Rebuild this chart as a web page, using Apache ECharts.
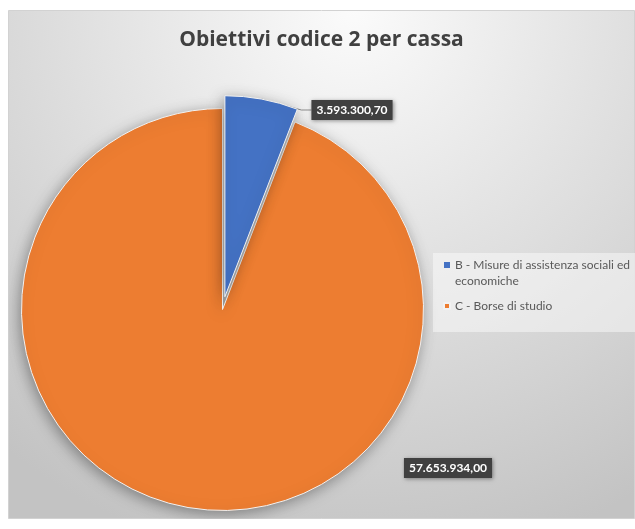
<!DOCTYPE html>
<html>
<head>
<meta charset="utf-8">
<script src="https://cdn.jsdelivr.net/npm/echarts@6/dist/echarts.min.js"></script>
<style>
  html, body { margin: 0; padding: 0; background: #ffffff; }
  #chart { position: absolute; left: 8px; top: 10px; width: 627px; height: 509px; }
</style>
</head>
<body>
<div id="chart"></div>
<script>
// ---- data ----
const titleText = 'Obiettivi codice 2 per cassa';
const categories = ['B - Misure di assistenza sociali ed economiche', 'C - Borse di studio'];
const values = [3593300.70, 57653934.00];
const colors = ['#4472C4', '#ED7D31'];

function fmtIt(v) {
  const parts = v.toFixed(2).split('.');
  const intPart = parts[0].replace(/\B(?=(\d{3})+(?!\d))/g, '.');
  return intPart + ',' + parts[1];
}

// layout
const pieCenter = [214.5, 299.5];
const pieRadius = 201;
const explode = 13;          // exploded offset of slice B (px)
const explodedIndex = 0;
const labelPos = [[344, 100], [440, 458]];

// offset of the exploded slice along its mid angle (computed from the data)
const total = values.reduce(function (a, b) { return a + b; }, 0);
let before = 0;
for (let i = 0; i < explodedIndex; i++) before += values[i];
const midFrac = (before + values[explodedIndex] / 2) / total;
const midRad = (90 - midFrac * 360) * Math.PI / 180;
const explodedCenter = [pieCenter[0] + explode * Math.cos(midRad), pieCenter[1] - explode * Math.sin(midRad)];

const baseItemStyle = {
  borderColor: '#f2f2f2',
  borderWidth: 1,
  shadowBlur: 14,
  shadowColor: 'rgba(0,0,0,0.35)',
  shadowOffsetX: -2,
  shadowOffsetY: 3
};
const baseLabel = {
  show: true,
  position: 'outside',
  formatter: function (p) { return fmtIt(p.value); },
  backgroundColor: '#404040',
  color: '#ffffff',
  fontFamily: 'Lato',
  fontWeight: 'bold',
  fontSize: 12,
  padding: [4, 5],
  shadowBlur: 4,
  shadowColor: 'rgba(0,0,0,0.4)',
  shadowOffsetX: 1,
  shadowOffsetY: 1
};

function makeSeries(visibleIdx, center, showLine) {
  return {
    type: 'pie',
    center: center,
    radius: pieRadius,
    startAngle: 90,
    clockwise: true,
    avoidLabelOverlap: false,
    silent: true,
    itemStyle: baseItemStyle,
    label: baseLabel,
    labelLine: {
      show: showLine,
      length: 10,
      length2: 10,
      lineStyle: { color: '#8c8c8c', width: 1 }
    },
    labelLayout: function (params) {
      const p = labelPos[params.dataIndex];
      return { x: p[0], y: p[1], align: 'center', verticalAlign: 'middle' };
    },
    emphasis: { disabled: true },
    data: categories.map(function (c, i) {
      const vis = i === visibleIdx;
      return {
        name: c,
        value: values[i],
        itemStyle: vis ? { color: colors[i] } : { color: 'rgba(0,0,0,0)', borderWidth: 0, shadowBlur: 0 },
        label: { show: vis },
        labelLine: { show: vis && showLine }
      };
    })
  };
}

const chart = echarts.init(document.getElementById('chart'));
chart.setOption({
  animation: false,
  backgroundColor: '#ffffff',
  graphic: [
    {
      type: 'rect', z: -10, silent: true,
      shape: { x: 0.5, y: 0.5, width: 626, height: 508 },
      style: {
        fill: {
          type: 'radial', x: 0.55, y: 0.0, r: 1.1,
          colorStops: [
            { offset: 0, color: '#fbfbfb' },
            { offset: 0.2, color: '#f0f0f0' },
            { offset: 0.65, color: '#d7d7d7' },
            { offset: 1, color: '#c3c3c3' }
          ]
        },
        stroke: '#d2d2d2', lineWidth: 1
      }
    },
    {
      type: 'rect', z: 3, silent: true,
      shape: { x: 425, y: 243, width: 202, height: 79 },
      style: { fill: 'rgba(255,255,255,0.45)' }
    }
  ],
  title: {
    text: titleText,
    left: 'center',
    top: 20,
    padding: 0,
    textStyle: { fontFamily: 'Open Sans', fontWeight: 'bold', fontSize: 21, color: '#404040' }
  },
  legend: {
    orient: 'vertical',
    left: 435,
    top: 231,
    padding: 0,
    itemGap: 9,
    itemWidth: 6,
    itemHeight: 6,
    icon: 'rect',
    formatter: function (name) {
      return name.indexOf(' economiche') >= 0 ? '\n' + name.replace(' economiche', '\neconomiche') : name;
    },
    textStyle: { fontFamily: 'Lato', fontSize: 12, color: '#595959', lineHeight: 16 },
    data: categories.map(function (c, i) {
      return { name: c, itemStyle: { color: colors[i] } };
    })
  },
  series: [
    makeSeries(1, pieCenter, false),
    makeSeries(0, explodedCenter, true)
  ]
});
</script>
</body>
</html>
